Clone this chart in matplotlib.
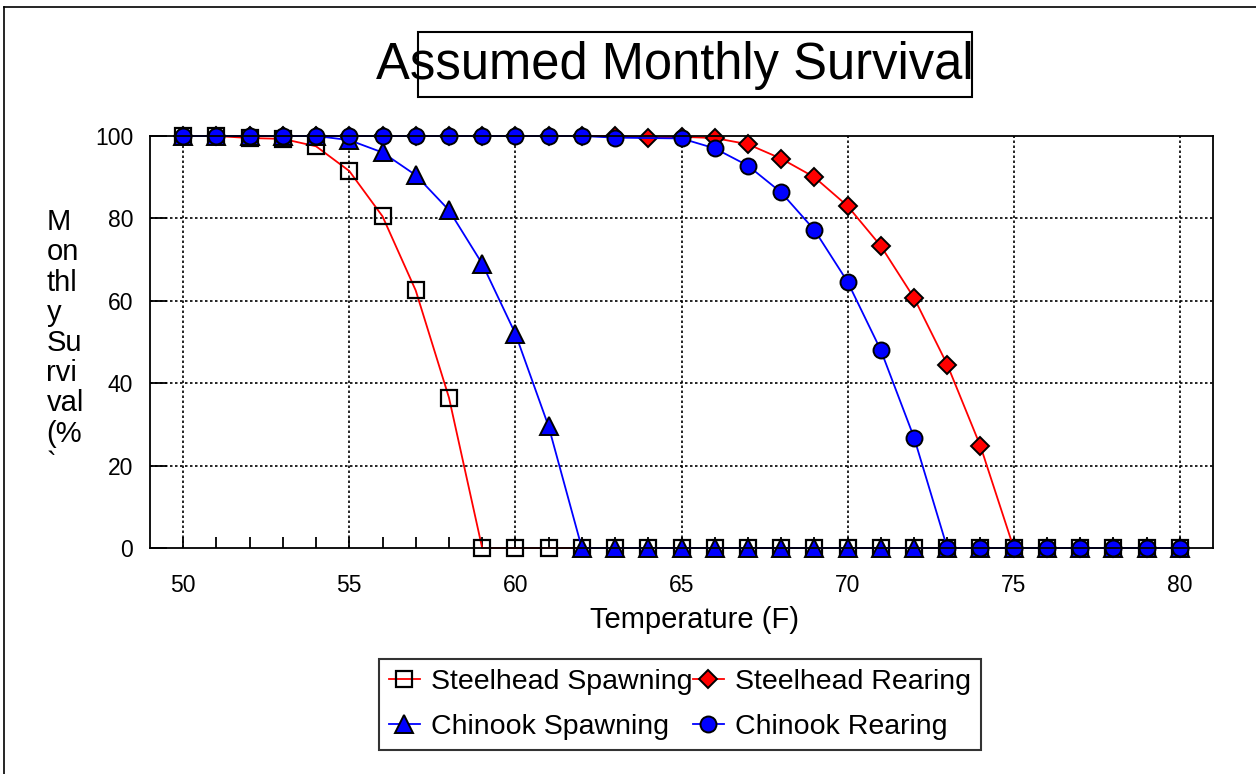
import matplotlib
matplotlib.use("Agg")
import matplotlib.pyplot as plt
from matplotlib.patches import Rectangle
from matplotlib.lines import Line2D
import numpy as np

plt.rcParams['font.family'] = ['Liberation Sans', 'DejaVu Sans']

# Temperature (F)
temps = [50, 51, 52, 53, 54, 55, 56, 57, 58, 59, 60, 61, 62, 63, 64, 65,
         66, 67, 68, 69, 70, 71, 72, 73, 74, 75, 76, 77, 78, 79, 80]
steelhead_spawning = [100, 100, 99.5, 99.3, 97.5, 91.5, 80.5, 62.5, 36.5, 0, 0, 0, 0, 0, 0, 0,
                      0, 0, 0, 0, 0, 0, 0, 0, 0, 0, 0, 0, 0, 0, 0]
steelhead_rearing = [100, 100, 100, 100, 100, 100, 100, 100, 100, 100, 100, 100, 100, 100, 99.6, 99.8,
                     99.5, 98, 94.5, 90, 83, 73.3, 60.7, 44.5, 24.7, 0, 0, 0, 0, 0, 0]
chinook_spawning = [100, 100, 100, 100, 100, 99, 96, 90.5, 82, 69, 52, 29.5, 0, 0, 0, 0,
                    0, 0, 0, 0, 0, 0, 0, 0, 0, 0, 0, 0, 0, 0, 0]
# Chinook rearing has no point at 64
cr_temps = [50, 51, 52, 53, 54, 55, 56, 57, 58, 59, 60, 61, 62, 63, 65,
            66, 67, 68, 69, 70, 71, 72, 73, 74, 75, 76, 77, 78, 79, 80]
chinook_rearing = [100, 100, 100, 100, 100, 100, 100, 100, 100, 100, 100, 100, 100, 99.6, 99.4,
                   97, 92.8, 86.3, 77.2, 64.6, 48, 26.8, 0, 0, 0, 0, 0, 0, 0, 0]

fig = plt.figure(figsize=(12.56, 7.74), dpi=100)
ax = fig.add_axes([0.1194, 0.292, 0.8464, 0.5323])

lw = 1.3
h1, = ax.plot(temps, steelhead_spawning, color='red', lw=lw, marker='s', ms=12,
              mfc='none', mec='black', mew=1.6, clip_on=False, label='Steelhead Spawning')
h2, = ax.plot(temps, steelhead_rearing, color='red', lw=lw, marker='D', ms=9.5,
              mfc='red', mec='black', mew=1.4, clip_on=False, label='Steelhead Rearing')
h3, = ax.plot(temps, chinook_spawning, color='blue', lw=lw, marker='^', ms=13,
              mfc='blue', mec='black', mew=1.4, clip_on=False, label='Chinook Spawning')
h4, = ax.plot(cr_temps, chinook_rearing, color='blue', lw=lw, marker='o', ms=11.5,
              mfc='blue', mec='black', mew=1.4, clip_on=False, label='Chinook Rearing')

ax.set_xlim(49, 81)
ax.set_ylim(0, 100)
ax.set_xticks([50, 55, 60, 65, 70, 75, 80])
ax.set_xticks(np.arange(50, 81, 1), minor=True)
ax.set_yticks([0, 20, 40, 60, 80, 100])
ax.tick_params(axis='both', which='both', direction='in', labelsize=16.5, color='black')
ax.tick_params(axis='x', which='both', length=8, width=1.3)
ax.tick_params(axis='x', which='major', pad=19)
ax.tick_params(axis='y', length=12, width=1.3, pad=12)
ax.tick_params(top=False, right=False, which='both')

for x in [50, 55, 60, 65, 70, 75, 80]:
    ax.axvline(x, color='black', lw=1.2, ls=(0, (1.5, 1.5)), zorder=0)
for y in [20, 40, 60, 80]:
    ax.axhline(y, color='black', lw=1.2, ls=(0, (1.5, 1.5)), zorder=0)

for s in ax.spines.values():
    s.set_linewidth(1.3)
    s.set_color('black')

fig.text(0.553, 0.199, 'Temperature (F)', fontsize=21, ha='center', va='center')
fig.text(0.037, 0.731, 'M\non\nthl\ny\nSu\nrvi\nval\n(%\n`', fontsize=21,
         ha='left', va='top', linespacing=1.1)

# title with its (too narrow) box
fig.text(0.537, 1 - 79 / 774, 'Assumed Monthly Survival', fontsize=36.5, ha='center', va='baseline')
fig.patches.append(Rectangle((0.3328, 0.8747), 0.441, 0.084, transform=fig.transFigure,
                             fill=False, edgecolor='black', lw=1.5))

# outer frame
fig.lines.append(Line2D([0.0032, 0.0032], [0, 0.991], transform=fig.transFigure, color='black', lw=1.2))
fig.lines.append(Line2D([0.0032, 1.0], [0.991, 0.991], transform=fig.transFigure, color='black', lw=1.2))

leg = fig.legend([h1, h3, h2, h4],
                 ['Steelhead Spawning', 'Chinook Spawning', 'Steelhead Rearing', 'Chinook Rearing'],
                 ncol=2, loc='center', bbox_to_anchor=(0.5414, 0.0898), fontsize=20.5,
                 frameon=True, fancybox=False, edgecolor='black', handlelength=1.1,
                 handletextpad=0.4, columnspacing=0.0, borderpad=0.35, labelspacing=0.68,
                 borderaxespad=0, markerscale=1.0)
leg.get_frame().set_linewidth(1.5)

fig.savefig('out.png', dpi=100)
